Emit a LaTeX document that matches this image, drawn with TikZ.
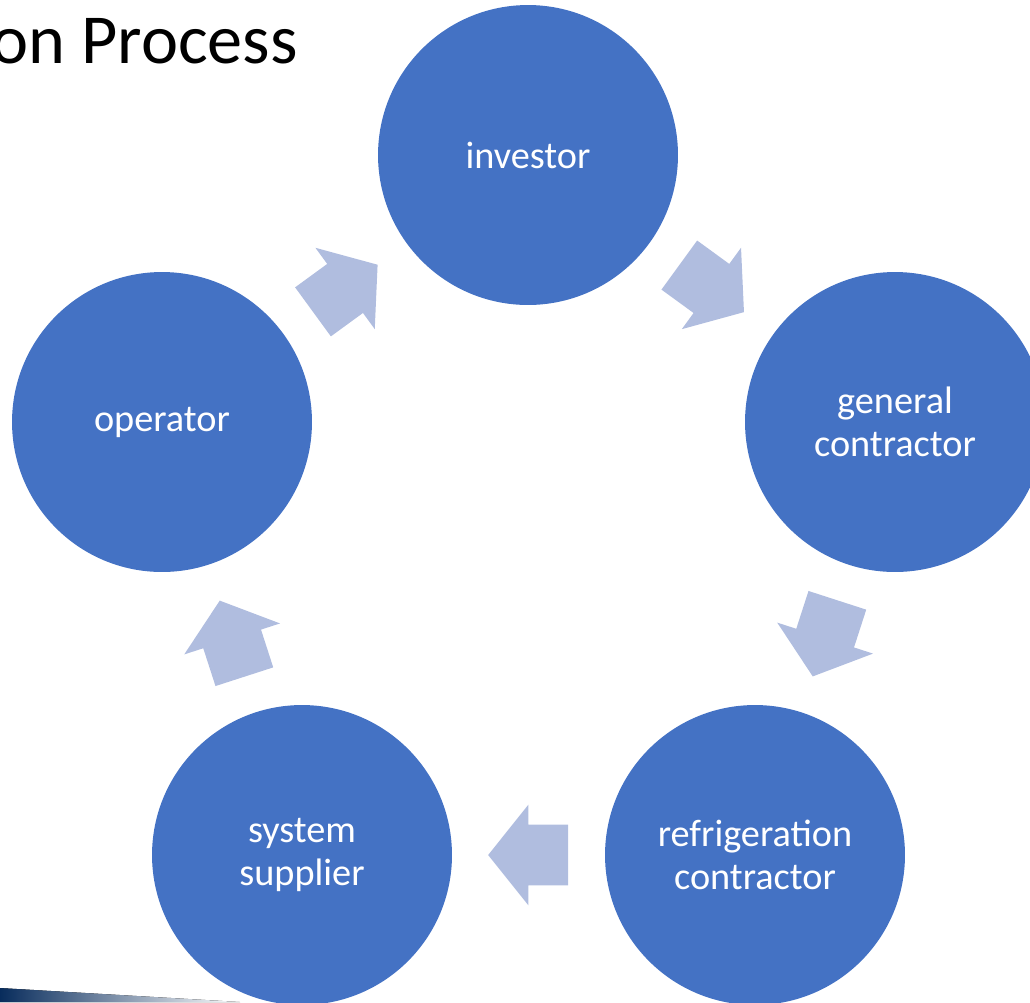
\documentclass[tikz,border=0pt]{standalone}
\usepackage{fontspec}
\setmainfont{Carlito}
\usetikzlibrary{shapes.arrows}

\definecolor{circblue}{RGB}{68,114,196}
\definecolor{flowblue}{RGB}{176,189,223}
\definecolor{barblue}{RGB}{8,44,92}

\tikzset{
  party/.style={circle, fill=circblue, minimum size=6cm, inner sep=0pt,
    text=white, align=center, font=\fontsize{21.8}{24.4}\selectfont},
  flow/.style={single arrow, fill=flowblue, inner xsep=0pt, inner ysep=0.6cm,
    outer sep=0pt, minimum height=1.6cm, single arrow head extend=0.4cm,
    single arrow tip angle=102.7, anchor=tail, pos=0.24, sloped,
    allow upside down}
}

\begin{document}
\begin{tikzpicture}[x=0.02cm, y=-0.02cm]
\useasboundingbox (0,0) rectangle (1030,1002);
\clip (0,0) rectangle (1030,1002);

% title (cut off on the left)
\node[anchor=base east, font=\fontsize{40}{42}\selectfont] (title) at (304,63) {on Process};

% bar in the bottom left corner
\fill[left color=barblue, right color=white] (0,988) -- (240,1002) -- (0,1002) -- cycle;

% the five parties
\node[party] (inv) at (528,155) {investor};
\node[party] (gc)  at (895,422) {general\\contractor};
\node[party] (rc)  at (755,855) {refrigeration\\contractor};
\node[party] (sup) at (302,855) {system\\supplier};
\node[party] (op)  at (162,422) {operator};

% block arrows between them
\path (inv) -- node[flow] {} (gc);
\path (gc)  -- node[flow] {} (rc);
\path (rc)  -- node[flow] {} (sup);
\path (sup) -- node[flow] {} (op);
\path (op)  -- node[flow] {} (inv);
\end{tikzpicture}
\end{document}
